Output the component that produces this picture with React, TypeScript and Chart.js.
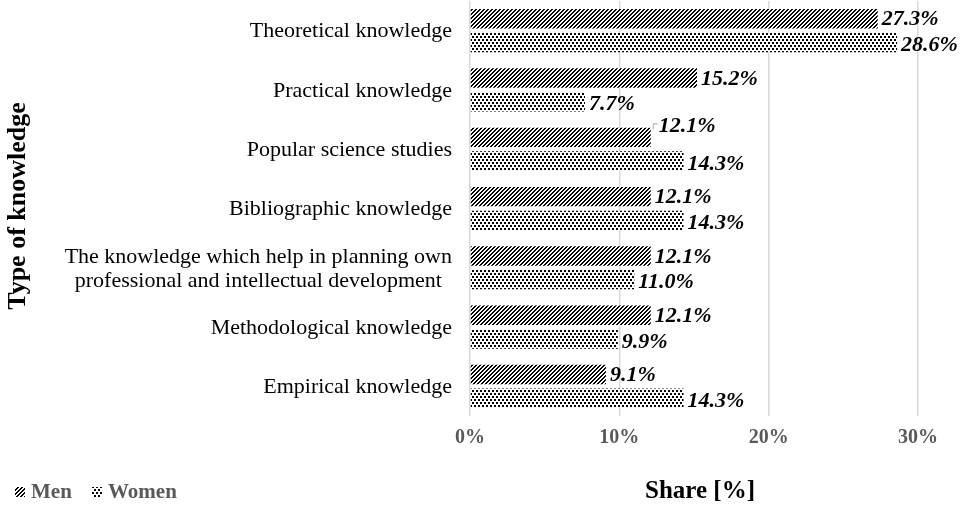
import { useEffect, useRef } from "react";
import { Chart, registerables } from "chart.js";

Chart.register(...registerables);

const categories: string[][] = [
  ["Theoretical knowledge"],
  ["Practical knowledge"],
  ["Popular science studies"],
  ["Bibliographic knowledge"],
  ["The knowledge which help in planning own", "professional and intellectual development"],
  ["Methodological knowledge"],
  ["Empirical knowledge"],
];
const seriesNames = ["Men", "Women"];
const menValues = [27.3, 15.2, 12.1, 12.1, 12.1, 12.1, 9.1];
const womenValues = [28.6, 7.7, 14.3, 14.3, 11.0, 9.9, 14.3];
const xTickValues = [0, 10, 20, 30];
const xTickLabels = ["0%", "10%", "20%", "30%"];
const xAxisTitle = "Share [%]";
const yAxisTitle = "Type of knowledge";

const SERIF = '"Liberation Serif", "Times New Roman", serif';

function makeHatch(): CanvasPattern | string {
  const c = document.createElement("canvas");
  c.width = 4;
  c.height = 4;
  const g = c.getContext("2d")!;
  g.fillStyle = "#ffffff";
  g.fillRect(0, 0, 4, 4);
  g.fillStyle = "#000000";
  for (let y = 0; y < 4; y++) {
    for (let x = 0; x < 4; x++) {
      const m = (x + y) % 4;
      if (m === 0 || m === 1) g.fillRect(x, y, 1, 1);
    }
  }
  return g.createPattern(c, "repeat") || "#333";
}

function makeDots(): CanvasPattern | string {
  const c = document.createElement("canvas");
  c.width = 4;
  c.height = 6;
  const g = c.getContext("2d")!;
  g.fillStyle = "#ffffff";
  g.fillRect(0, 0, 4, 6);
  g.fillStyle = "#000000";
  g.fillRect(0, 0, 2, 2);
  g.fillRect(2, 3, 2, 2);
  return g.createPattern(c, "repeat") || "#777";
}

export default function App() {
  const ref = useRef<HTMLCanvasElement | null>(null);

  useEffect(() => {
    const canvas = ref.current;
    if (!canvas) return;
    const hatch = makeHatch();
    const dots = makeDots();

    const overlay = {
      id: "overlay",
      afterDatasetsDraw(chart: any) {
        const ctx: CanvasRenderingContext2D = chart.ctx;
        const xs = chart.scales.x;
        const ys = chart.scales.y;
        ctx.save();

        // category labels
        ctx.fillStyle = "#000000";
        ctx.font = `22px ${SERIF}`;
        ctx.textBaseline = "middle";
        categories.forEach((lines, i) => {
          const cy = ys.getPixelForValue(i);
          const widths = lines.map((l) => ctx.measureText(l).width);
          const maxW = Math.max(...widths);
          const right = 452;
          const lh = 24;
          lines.forEach((l, j) => {
            const y = cy + (j - (lines.length - 1) / 2) * lh + 1;
            ctx.textAlign = "center";
            ctx.fillText(l, right - maxW / 2, y);
          });
        });

        // x tick labels
        ctx.fillStyle = "#595959";
        ctx.font = `bold 20px ${SERIF}`;
        ctx.textAlign = "center";
        xTickValues.forEach((v, i) => {
          ctx.fillText(xTickLabels[i], xs.getPixelForValue(v), 438);
        });

        // data labels
        ctx.fillStyle = "#000000";
        ctx.font = `italic bold 22px ${SERIF}`;
        ctx.textAlign = "left";
        [menValues, womenValues].forEach((vals, di) => {
          const meta = chart.getDatasetMeta(di);
          vals.forEach((v, i) => {
            const el = meta.data[i];
            let x = el.x + 4;
            let y = el.y + (di === 1 ? 3 : 1);
            if (di === 0 && i === 2) {
              // leader line
              ctx.strokeStyle = "#a6a6a6";
              ctx.lineWidth = 1;
              ctx.beginPath();
              ctx.moveTo(el.x + 2.5, el.y - 8);
              ctx.lineTo(el.x + 2.5, el.y - 13.5);
              ctx.lineTo(el.x + 7, el.y - 13.5);
              ctx.stroke();
              ctx.fillStyle = "#000000";
              x = el.x + 8;
              y = el.y - 11;
            }
            ctx.fillText(v.toFixed(1) + "%", x, y);
          });
        });

        // x axis title
        ctx.font = `bold 25px ${SERIF}`;
        ctx.textAlign = "center";
        ctx.fillStyle = "#000000";
        ctx.fillText(xAxisTitle, 700, 492);

        // y axis title
        ctx.save();
        ctx.translate(18, 206);
        ctx.rotate(-Math.PI / 2);
        ctx.font = `bold 26px ${SERIF}`;
        ctx.textAlign = "center";
        ctx.fillText(yAxisTitle, 0, 0);
        ctx.restore();

        // legend
        ctx.font = `bold 21px ${SERIF}`;
        ctx.textAlign = "left";
        const items = [
          { name: seriesNames[0], fill: hatch, x: 15, tx: 31 },
          { name: seriesNames[1], fill: dots, x: 92, tx: 108 },
        ];
        items.forEach((it) => {
          ctx.fillStyle = it.fill as any;
          ctx.fillRect(it.x, 487, 10, 10);
          ctx.fillStyle = "#595959";
          ctx.fillText(it.name, it.tx, 493);
        });

        ctx.restore();
      },
    };

    const chart = new Chart(canvas, {
      type: "bar",
      data: {
        labels: categories.map((c) => c.join(" ")),
        datasets: [
          {
            label: seriesNames[0],
            data: menValues,
            backgroundColor: hatch as any,
            borderWidth: 0,
            categoryPercentage: 0.8,
            barPercentage: 0.82,
          },
          {
            label: seriesNames[1],
            data: womenValues,
            backgroundColor: dots as any,
            borderWidth: 0,
            categoryPercentage: 0.8,
            barPercentage: 0.82,
          },
        ],
      },
      options: {
        indexAxis: "y",
        responsive: false,
        animation: false,
        devicePixelRatio: 1,
        layout: { padding: { left: 470, right: 44, top: 1, bottom: 89 } },
        plugins: {
          legend: { display: false },
          tooltip: { enabled: false },
          title: { display: false },
        },
        scales: {
          x: {
            min: 0,
            max: 30,
            ticks: { display: false, stepSize: 10 },
            grid: { color: "#d9d9d9", lineWidth: 1.5, drawTicks: false },
            border: { display: false },
            afterFit: (s: any) => {
              s.height = 0;
            },
          },
          y: {
            ticks: { display: false },
            grid: { display: false, drawTicks: false },
            border: { display: false },
            afterFit: (s: any) => {
              s.width = 0;
            },
          },
        },
      },
      plugins: [overlay],
    });

    return () => chart.destroy();
  }, []);

  return (
    <div style={{ position: "absolute", left: 0, top: 0, width: 962, height: 505, background: "#fff" }}>
      <canvas ref={ref} width={962} height={505} style={{ display: "block" }} />
    </div>
  );
}
